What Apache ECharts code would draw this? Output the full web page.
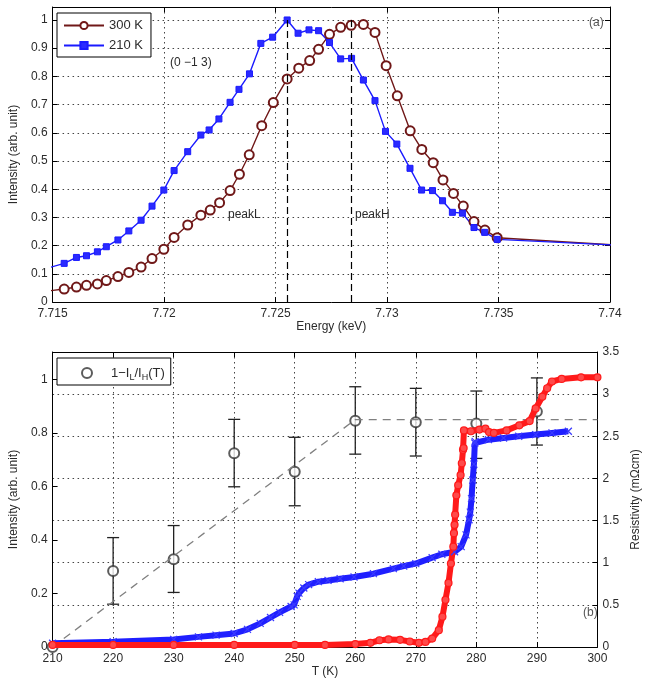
<!DOCTYPE html>
<html>
<head>
<meta charset="utf-8">
<script src="https://cdn.jsdelivr.net/npm/echarts@6/dist/echarts.min.js"></script>
<style>
html,body{margin:0;padding:0;background:#fff;}
#chart{width:650px;height:681px;}
</style>
</head>
<body>
<div id="chart"></div>
<script>
// ---------- panel (a): energy scans ----------
const energy300 = [7.7145, 7.71552, 7.71607, 7.71652, 7.71701, 7.71741, 7.71793, 7.71842, 7.71897, 7.71946, 7.71999, 7.72045, 7.72106, 7.72165, 7.72207, 7.72249, 7.72296, 7.72338, 7.72382, 7.72438, 7.72490, 7.72552, 7.72604, 7.72653, 7.72693, 7.72742, 7.72792, 7.72839, 7.72894, 7.72946, 7.72996, 7.73046, 7.73104, 7.73156, 7.73207, 7.73251, 7.73298, 7.73342, 7.73390, 7.73439, 7.73494, 7.7405];
const intensity300 = [0.036, 0.046, 0.053, 0.059, 0.064, 0.076, 0.090, 0.105, 0.124, 0.154, 0.187, 0.229, 0.273, 0.308, 0.326, 0.352, 0.395, 0.453, 0.522, 0.625, 0.707, 0.791, 0.829, 0.856, 0.896, 0.949, 0.974, 0.981, 0.984, 0.956, 0.838, 0.731, 0.607, 0.541, 0.494, 0.433, 0.385, 0.340, 0.285, 0.255, 0.228, 0.201];
const energy210 = [7.7145, 7.71552, 7.71607, 7.71652, 7.71701, 7.71741, 7.71793, 7.71842, 7.71897, 7.71946, 7.71999, 7.72045, 7.72106, 7.72165, 7.72202, 7.72246, 7.72296, 7.72336, 7.72383, 7.72434, 7.72487, 7.72552, 7.72601, 7.72650, 7.72693, 7.72742, 7.72792, 7.72841, 7.72894, 7.72946, 7.72993, 7.73044, 7.73103, 7.73155, 7.73204, 7.73249, 7.73293, 7.73338, 7.73390, 7.73438, 7.73494, 7.7405];
const intensity210 = [0.114, 0.137, 0.158, 0.164, 0.178, 0.196, 0.220, 0.252, 0.290, 0.340, 0.397, 0.466, 0.533, 0.592, 0.610, 0.649, 0.708, 0.754, 0.809, 0.917, 0.939, 1.000, 0.953, 0.965, 0.962, 0.920, 0.862, 0.864, 0.787, 0.714, 0.605, 0.560, 0.474, 0.397, 0.395, 0.359, 0.318, 0.315, 0.264, 0.247, 0.222, 0.201];
const peakEnergy = [7.72554, 7.72839];
const energyTicks = [7.715, 7.72, 7.725, 7.73, 7.735, 7.74];

// ---------- panel (b): temperature dependence ----------
const tempRatio = [210, 220, 230, 240, 250, 260, 270, 280, 290];
const ratio = [0, 0.284, 0.328, 0.724, 0.655, 0.846, 0.840, 0.836, 0.880];
const ratioLow = [null, 0.160, 0.204, 0.599, 0.528, 0.721, 0.714, 0.705, 0.755];
const ratioHigh = [null, 0.409, 0.454, 0.851, 0.784, 0.973, 0.967, 0.957, 1.006];
const guideT = [210, 260, 300];
const guideV = [0, 0.85, 0.85];

const tempRhoBlue = [210, 220, 230, 234.1, 237, 240, 242.2, 244.3, 246, 247.5, 249.4, 249.9, 250.4, 250.7, 251.5, 252.3, 253.9, 255.5, 257.5, 259.8, 263, 266.3, 268, 270, 272.7, 274.3, 276.4, 277.5, 278.3, 278.8, 279.0, 279.2, 279.4, 279.6, 279.75, 279.8, 282, 284.5, 287, 289.8, 292.5, 295.2];
const rhoBlue = [0.044, 0.063, 0.09, 0.12, 0.14, 0.16, 0.21, 0.28, 0.35, 0.41, 0.48, 0.50, 0.60, 0.64, 0.70, 0.74, 0.775, 0.79, 0.81, 0.83, 0.87, 0.93, 0.96, 0.99, 1.06, 1.10, 1.13, 1.19, 1.33, 1.51, 1.60, 1.76, 1.98, 2.17, 2.42, 2.44, 2.46, 2.48, 2.50, 2.52, 2.54, 2.56];
const tempRhoRed = [210, 220, 230, 240, 250, 255, 260, 262.5, 264, 265.5, 267.4, 269, 270.5, 271.6, 272.7, 273.8, 274.4, 274.9, 275.4, 275.8, 276.2, 276.3, 276.4, 276.5, 276.7, 277.0, 277.4, 277.6, 277.8, 277.9, 277.95, 279.1, 280.5, 281.5, 282.1, 282.9, 285.0, 287.1, 288.8, 289.8, 290.9, 291.7, 292.5, 294.1, 297.3, 300];
const rhoRed = [0.025, 0.025, 0.025, 0.025, 0.025, 0.025, 0.035, 0.05, 0.08, 0.09, 0.085, 0.065, 0.05, 0.06, 0.10, 0.20, 0.36, 0.56, 0.76, 0.99, 1.19, 1.35, 1.45, 1.57, 1.80, 1.92, 2.04, 2.18, 2.34, 2.36, 2.57, 2.56, 2.58, 2.59, 2.55, 2.54, 2.57, 2.63, 2.68, 2.83, 2.97, 3.07, 3.15, 3.18, 3.20, 3.20];

const FONT = "'Liberation Sans', Arial, sans-serif";
const TXT = '#2b2b2b';
const zip = (a, b) => a.map((v, i) => [v, b[i]]);
const gridDot = {show: true, lineStyle: {color: '#444', type: [1.5, 3.5], width: 1}};
const tickIn = {show: true, inside: true, length: 5, lineStyle: {color: '#000'}};
const axLine = {show: true, onZero: false, lineStyle: {color: '#000', width: 1}};
const lab = (extra) => Object.assign({color: TXT, fontFamily: FONT, fontSize: 12}, extra || {});
const nameStyle = {color: TXT, fontFamily: FONT, fontSize: 12};

const chart = echarts.init(document.getElementById('chart'), null, {renderer: 'canvas'});

const option = {
  backgroundColor: '#fff',
  animation: false,
  grid: [
    {left: 50, top: 7, width: 560, height: 295},
    {left: 50, top: 352, width: 560, height: 295}
  ],
  legend: [
    {
      data: ['300 K', '210 K'],
      orient: 'vertical', left: 57, top: 13,
      itemWidth: 40, itemHeight: 9, itemGap: 7,
      padding: [6, 8, 5, 6],
      borderColor: '#000', borderWidth: 1, backgroundColor: '#fff',
      textStyle: {fontFamily: FONT, fontSize: 13, color: TXT},
      selectedMode: false
    },
    {
      data: ['ratio'],
      left: 57, top: 358,
      itemWidth: 10, itemHeight: 10,
      padding: [6, 6, 3, 24],
      borderColor: '#000', borderWidth: 1, backgroundColor: '#fff',
      formatter: () => '1−I{s|L}/I{s|H}(T)',
      textStyle: {fontFamily: FONT, fontSize: 13, color: TXT, padding: [0, 0, 0, 14], lineHeight: 18,
        rich: {s: {fontFamily: FONT, fontSize: 9, color: TXT, verticalAlign: 'bottom', lineHeight: 18, padding: [6, 0, 0, 0]}}},
      selectedMode: false
    }
  ],
  xAxis: [
    {gridIndex: 0, type: 'value', min: energyTicks[0], max: energyTicks[energyTicks.length - 1], interval: 0.005,
      name: 'Energy (keV)', nameLocation: 'middle', nameGap: 18, nameTextStyle: nameStyle,
      axisLine: axLine, axisTick: tickIn, splitLine: gridDot,
      axisLabel: lab({margin: 6, formatter: v => String(Number(v.toFixed(3)))})},
    {gridIndex: 0, type: 'value', position: 'top', min: energyTicks[0], max: energyTicks[energyTicks.length - 1], interval: 0.005,
      axisLine: axLine, axisTick: tickIn, splitLine: {show: false}, axisLabel: {show: false}},
    {gridIndex: 1, type: 'value', min: 210, max: 300, interval: 10,
      name: 'T (K)', nameLocation: 'middle', nameGap: 18, nameTextStyle: nameStyle,
      axisLine: axLine, axisTick: tickIn, splitLine: gridDot,
      axisLabel: lab({margin: 6})},
    {gridIndex: 1, type: 'value', position: 'top', min: 210, max: 300, interval: 10,
      axisLine: axLine, axisTick: tickIn, splitLine: {show: false}, axisLabel: {show: false}}
  ],
  yAxis: [
    {gridIndex: 0, type: 'value', min: 0, max: 1.046, interval: 0.1,
      name: 'Intensity (arb. unit)', nameLocation: 'middle', nameGap: 30, nameRotate: 90, nameTextStyle: nameStyle,
      axisLine: axLine, axisTick: tickIn, splitLine: gridDot,
      axisLabel: lab({margin: 5, showMaxLabel: false, formatter: v => String(Number(v.toFixed(1)))})},
    {gridIndex: 0, type: 'value', position: 'right', min: 0, max: 1.046, interval: 0.1,
      axisLine: axLine, axisTick: tickIn, splitLine: {show: false}, axisLabel: {show: false}},
    {gridIndex: 1, type: 'value', min: 0, max: 1.1029, interval: 0.2,
      name: 'Intensity (arb. unit)', nameLocation: 'middle', nameGap: 30, nameRotate: 90, nameTextStyle: nameStyle,
      axisLine: axLine, axisTick: tickIn, splitLine: {show: false},
      axisLabel: lab({margin: 5, showMaxLabel: false, formatter: v => String(Number(v.toFixed(1)))})},
    {gridIndex: 1, type: 'value', position: 'right', min: 0, max: 3.5, interval: 0.5,
      name: 'Resistivity (mΩcm)', nameLocation: 'middle', nameGap: 21, nameRotate: 90, nameTextStyle: nameStyle,
      axisLine: axLine, axisTick: tickIn, splitLine: gridDot,
      axisLabel: lab({margin: 5})}
  ],
  series: [
    {
      name: '300 K', type: 'line', xAxisIndex: 0, yAxisIndex: 0, clip: true,
      data: zip(energy300, intensity300),
      symbol: 'emptyCircle', symbolSize: 9,
      lineStyle: {color: '#701818', width: 1.4},
      itemStyle: {color: '#701818', borderColor: '#701818', borderWidth: 1.4},
      emphasis: {disabled: true}
    },
    {
      name: '210 K', type: 'line', xAxisIndex: 0, yAxisIndex: 0, clip: true,
      data: zip(energy210, intensity210),
      symbol: 'rect', symbolSize: 6,
      lineStyle: {color: '#1a1aff', width: 1.4},
      itemStyle: {color: '#2a2aff', borderColor: '#1a1aff', borderWidth: 1},
      emphasis: {disabled: true},
      markLine: {
        silent: true, symbol: 'none', label: {show: false},
        lineStyle: {color: '#000', type: [7, 4], width: 1.2},
        data: peakEnergy.map(e => [{coord: [e, 0]}, {coord: [e, 1.01]}])
      }
    },
    {
      name: 'errbars', type: 'custom', xAxisIndex: 2, yAxisIndex: 2, silent: true,
      data: tempRatio.map((t, i) => [t, ratioLow[i], ratioHigh[i]]).filter(d => d[1] !== null),
      renderItem: function (params, api) {
        const t = api.value(0);
        const lo = api.coord([t, api.value(1)]);
        const hi = api.coord([t, api.value(2)]);
        const style = {stroke: '#222', lineWidth: 1.3};
        const cap = 6;
        return {
          type: 'group',
          children: [
            {type: 'line', shape: {x1: lo[0], y1: lo[1], x2: hi[0], y2: hi[1]}, style: style},
            {type: 'line', shape: {x1: lo[0] - cap, y1: lo[1], x2: lo[0] + cap, y2: lo[1]}, style: style},
            {type: 'line', shape: {x1: hi[0] - cap, y1: hi[1], x2: hi[0] + cap, y2: hi[1]}, style: style}
          ]
        };
      }
    },
    {
      name: 'guide', type: 'line', xAxisIndex: 2, yAxisIndex: 2, silent: true,
      data: zip(guideT, guideV), symbol: 'none',
      lineStyle: {color: '#808080', width: 1.3, type: [8, 6]}
    },
    {
      name: 'ratio', type: 'scatter', xAxisIndex: 2, yAxisIndex: 2,
      data: zip(tempRatio, ratio),
      symbol: 'emptyCircle', symbolSize: 10,
      itemStyle: {color: '#333', borderColor: '#333', borderWidth: 1.1},
      emphasis: {disabled: true}
    },
    {
      name: 'rhoBlue', type: 'line', xAxisIndex: 2, yAxisIndex: 3, clip: true,
      data: zip(tempRhoBlue, rhoBlue),
      symbol: 'path://M0,0L10,10M10,0L0,10', symbolSize: 7,
      lineStyle: {color: '#1f1fff', width: 6},
      itemStyle: {color: 'none', borderColor: '#3a3aff', borderWidth: 1.2},
      emphasis: {disabled: true}
    },
    {
      name: 'rhoRed', type: 'line', xAxisIndex: 2, yAxisIndex: 3, clip: true,
      data: zip(tempRhoRed, rhoRed),
      symbol: 'circle', symbolSize: 7,
      lineStyle: {color: '#ff1a1a', width: 6},
      itemStyle: {color: '#ff4a4a', borderColor: '#ff1a1a', borderWidth: 1.2},
      emphasis: {disabled: true}
    }
  ],
  graphic: [
    {type: 'text', left: 170, top: 57, style: {text: '(0 −1 3)', fontFamily: FONT, fontSize: 12, fill: TXT}},
    {type: 'text', left: 228, top: 209, style: {text: 'peakL', fontFamily: FONT, fontSize: 12, fill: TXT}},
    {type: 'text', left: 355, top: 209, style: {text: 'peakH', fontFamily: FONT, fontSize: 12, fill: TXT}},
    {type: 'text', left: 589, top: 17, style: {text: '(a)', fontFamily: FONT, fontSize: 12, fill: '#555'}},
    {type: 'text', left: 583, top: 607, style: {text: '(b)', fontFamily: FONT, fontSize: 12, fill: '#555'}}
  ]
};
chart.setOption(option);
</script>
</body>
</html>
